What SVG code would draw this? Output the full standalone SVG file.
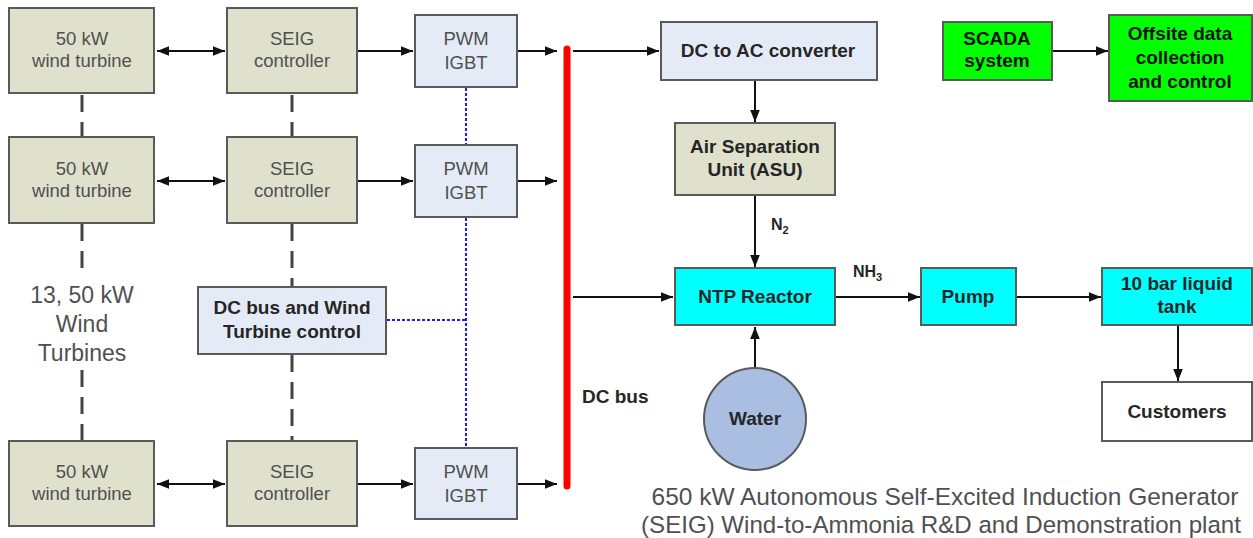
<svg xmlns="http://www.w3.org/2000/svg" width="1253" height="538" viewBox="0 0 1253 538">
<defs>
<marker id="ah" viewBox="0 0 10 10" refX="10" refY="5" markerWidth="6.5" markerHeight="6" orient="auto-start-reverse" markerUnits="strokeWidth">
<path d="M0,1 L10,5 L0,9 z" fill="#111"/>
</marker>
<style>
.box{stroke:#5a5a5a;stroke-width:2}
.tan{fill:#dfe1cd}
.blue{fill:#e5ebf6}
.cyan{fill:#00ffff}
.green{fill:#00ff00}
.wht{fill:#ffffff}
.t{font-family:"Liberation Sans",Arial,sans-serif;font-size:18.5px;fill:#505050;text-anchor:middle}
.b{font-family:"Liberation Sans",Arial,sans-serif;font-size:19px;font-weight:bold;fill:#262626;text-anchor:middle}
.big{font-size:23px}
.cap{font-size:24.5px}
.arr{stroke:#111;stroke-width:2;fill:none;marker-end:url(#ah)}
.bi{stroke:#111;stroke-width:2;fill:none;marker-end:url(#ah);marker-start:url(#ah)}
.dash{stroke:#444;stroke-width:3;stroke-dasharray:17,10;fill:none}
.dot{stroke:#1a1aff;stroke-width:2;stroke-dasharray:3,2;fill:none}
</style>
</defs>
<g id="connectors">
<line class="bi" x1="157" y1="51" x2="225" y2="51"/>
<line class="bi" x1="157" y1="181" x2="225" y2="181"/>
<line class="bi" x1="157" y1="484" x2="225" y2="484"/>
<line class="arr" x1="358" y1="51" x2="413" y2="51"/>
<line class="arr" x1="358" y1="181" x2="413" y2="181"/>
<line class="arr" x1="358" y1="484" x2="413" y2="484"/>
<line class="arr" x1="518" y1="51" x2="557" y2="51"/>
<line class="arr" x1="518" y1="181" x2="557" y2="181"/>
<line class="arr" x1="518" y1="484" x2="557" y2="484"/>
<line class="arr" x1="573" y1="51" x2="659" y2="51"/>
<line class="arr" x1="573" y1="297" x2="673" y2="297"/>
<line class="arr" x1="755" y1="81" x2="755" y2="122"/>
<line class="arr" x1="755" y1="196" x2="755" y2="267"/>
<line class="arr" x1="755" y1="368" x2="755" y2="327"/>
<line class="arr" x1="836" y1="297" x2="920" y2="297"/>
<line class="arr" x1="1017" y1="297" x2="1101" y2="297"/>
<line class="arr" x1="1178" y1="326" x2="1178" y2="381"/>
<line class="arr" x1="1053" y1="51" x2="1108" y2="51"/>
<line class="dash" x1="82" y1="95" x2="82" y2="137"/>
<line class="dash" x1="82" y1="224" x2="82" y2="272"/>
<line class="dash" x1="82" y1="370" x2="82" y2="440"/>
<line class="dash" x1="292" y1="95" x2="292" y2="137"/>
<line class="dash" x1="292" y1="224" x2="292" y2="287"/>
<line class="dash" x1="292" y1="355" x2="292" y2="441"/>
<line class="dot" x1="466" y1="88" x2="466" y2="145"/>
<line class="dot" x1="466" y1="218" x2="466" y2="448"/>
<line class="dot" x1="387" y1="320" x2="466" y2="320"/>
<line id="dcbus" x1="567" y1="49" x2="567" y2="486" stroke="#ff0000" stroke-width="7" stroke-linecap="round"/>
</g>
<g id="wt1"><rect class="box tan" x="9" y="8" width="145" height="85"/><text class="t" x="82" y="45">50 kW</text><text class="t" x="82" y="67">wind turbine</text></g>
<g id="wt2"><rect class="box tan" x="9" y="137" width="145" height="86"/><text class="t" x="82" y="175">50 kW</text><text class="t" x="82" y="197">wind turbine</text></g>
<g id="wt3"><rect class="box tan" x="9" y="441" width="145" height="85"/><text class="t" x="82" y="478">50 kW</text><text class="t" x="82" y="500">wind turbine</text></g>
<g id="seig1"><rect class="box tan" x="227" y="8" width="130" height="85"/><text class="t" x="292" y="45">SEIG</text><text class="t" x="292" y="67">controller</text></g>
<g id="seig2"><rect class="box tan" x="227" y="137" width="130" height="86"/><text class="t" x="292" y="175">SEIG</text><text class="t" x="292" y="197">controller</text></g>
<g id="seig3"><rect class="box tan" x="227" y="441" width="130" height="85"/><text class="t" x="292" y="478">SEIG</text><text class="t" x="292" y="500">controller</text></g>
<g id="pwm1"><rect class="box blue" x="415" y="15" width="102" height="72"/><text class="t" x="466" y="45">PWM</text><text class="t" x="466" y="69">IGBT</text></g>
<g id="pwm2"><rect class="box blue" x="415" y="145" width="102" height="72"/><text class="t" x="466" y="175">PWM</text><text class="t" x="466" y="199">IGBT</text></g>
<g id="pwm3"><rect class="box blue" x="415" y="448" width="102" height="71"/><text class="t" x="466" y="478">PWM</text><text class="t" x="466" y="502">IGBT</text></g>
<g id="label13"><text class="t big" x="82" y="303">13, 50 kW</text><text class="t big" x="82" y="332">Wind</text><text class="t big" x="82" y="361">Turbines</text></g>
<g id="dcctl"><rect class="box blue" x="198" y="287" width="188" height="67"/><text class="b" x="292" y="314">DC bus and Wind</text><text class="b" x="292" y="338">Turbine control</text></g>
<g id="dcbuslabel"><text class="b" x="582" y="403" style="text-anchor:start">DC bus</text></g>
<g id="dcac"><rect class="box blue" x="661" y="22" width="216" height="58"/><text class="b" x="768" y="57">DC to AC converter</text></g>
<g id="asu"><rect class="box tan" x="675" y="123" width="160" height="72"/><text class="b" x="755" y="153">Air Separation</text><text class="b" x="755" y="176">Unit (ASU)</text></g>
<g id="n2"><text class="b" x="771" y="230" style="text-anchor:start;font-size:16px">N<tspan font-size="11" dy="4">2</tspan></text></g>
<g id="ntp"><rect class="box cyan" x="675" y="268" width="160" height="57"/><text class="b" x="755" y="303">NTP Reactor</text></g>
<g id="water"><circle cx="755" cy="419" r="51" fill="#a9bee0" stroke="#5a5a5a" stroke-width="2"/><text class="b" x="755" y="425">Water</text></g>
<g id="nh3"><text class="b" x="853" y="277" style="text-anchor:start;font-size:16px">NH<tspan font-size="11" dy="4">3</tspan></text></g>
<g id="pump"><rect class="box cyan" x="921" y="268" width="95" height="57"/><text class="b" x="968" y="303">Pump</text></g>
<g id="tank"><rect class="box cyan" x="1102" y="268" width="150" height="57"/><text class="b" x="1177" y="290">10 bar liquid</text><text class="b" x="1177" y="313">tank</text></g>
<g id="customers"><rect class="box wht" x="1102" y="382" width="150" height="59"/><text class="b" x="1177" y="418">Customers</text></g>
<g id="scada"><rect class="box green" x="943" y="22" width="109" height="58"/><text class="b" x="997" y="45" style="fill:#111">SCADA</text><text class="b" x="997" y="67" style="fill:#111">system</text></g>
<g id="offsite"><rect class="box green" x="1109" y="15" width="143" height="86"/><text class="b" x="1180" y="40" style="fill:#111">Offsite data</text><text class="b" x="1180" y="64" style="fill:#111">collection</text><text class="b" x="1180" y="88" style="fill:#111">and control</text></g>
<g id="caption"><text class="t cap" x="945" y="505">650 kW Autonomous Self-Excited Induction Generator</text><text class="t" x="941" y="533" style="font-size:24.1px">(SEIG) Wind-to-Ammonia R&amp;D and Demonstration plant</text></g>
</svg>
